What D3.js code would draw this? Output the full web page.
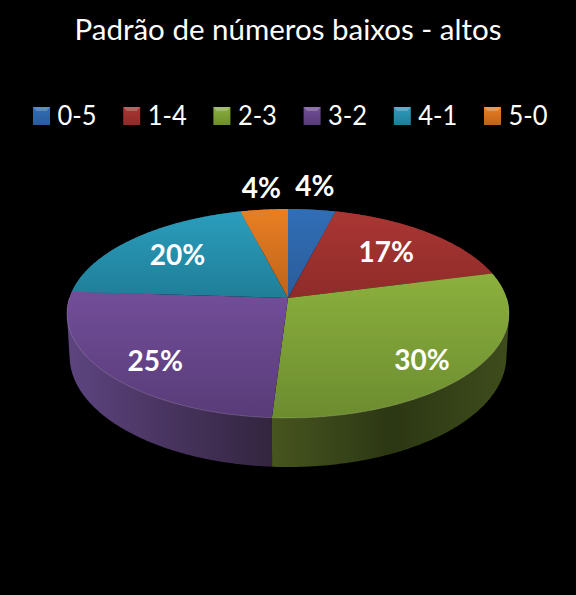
<!DOCTYPE html>
<html>
<head>
<meta charset="utf-8">
<script src="https://cdn.jsdelivr.net/npm/d3@7"></script>
<style>
html, body { margin: 0; padding: 0; background: #000; }
text { font-family: Lato, "Open Sans", sans-serif; fill: #fff; }
</style>
</head>
<body>
<svg id="chart" width="576" height="595"></svg>
<script>
const title = "Padrão de números baixos - altos";
const categories = ["0-5", "1-4", "2-3", "3-2", "4-1", "5-0"];
const values = [4, 17, 30, 25, 20, 4];
const topLight = ["#306eb6", "#aa3633", "#8cb03e", "#724e99", "#2b9dbd", "#e97f23"];
const topDark = ["#2a5c9a", "#8e2b29", "#6c8c2f", "#583b78", "#1f7e98", "#bd631a"];
const sideLeft = ["#2a5080", "#7a2826", "#47551f", "#5d4480", "#1c6a80", "#9c5216"];
const sideMid = ["#234268", "#5c1f1d", "#2c3713", "#48345f", "#155264", "#7c4212"];
const sideRight = ["#1b3350", "#4a1816", "#3e4c1c", "#33253f", "#10404e", "#5f320e"];
const labelRadius = [1.15, 0.68, 0.74, 0.75, 0.7, 1.13];
const labelShift = [-12, 0, 10, 8, 0, -12];

const svg = d3.select("#chart");
const defs = svg.append("defs");

// the pie is a flat disc seen in perspective: the centre sits above the middle of the ellipse
const cx = 288, cy = 298;
const halfWidth = 218.6, halfDepth = 102.2, persp = 0.148, thickness = 41.8;

function project(angle, r, drop) {
	let u = Math.sin(angle) * r,
		v = -Math.cos(angle) * r,
		w = 1 - persp * v,
		narrow = drop > 0 ? 0.988 : 1;
	return [cx + narrow * halfWidth * u / w, cy + (halfDepth * v + drop) / w];
}

function rim(start, end, drop) {
	let n = Math.max(2, Math.ceil((end - start) / 0.01));
	return d3.range(n + 1).map(i => project(start + (end - start) * i / n, 1, drop));
}

const slices = d3.pie().sort(null).startAngle(0).endAngle(2 * Math.PI)(values);
const line = d3.line();

function addGradient(id, vertical, stops) {
	let g = defs.append("linearGradient").attr("id", id)
		.attr("x1", 0).attr("y1", 0)
		.attr("x2", vertical ? 0 : 1).attr("y2", vertical ? 1 : 0);
	stops.forEach((c, i) => g.append("stop")
		.attr("offset", i / (stops.length - 1)).attr("stop-color", c));
}

slices.forEach((s, i) => {
	addGradient("top" + i, true, [topLight[i], topDark[i]]);
	addGradient("side" + i, false, [sideLeft[i], sideMid[i], sideRight[i]]);
});

// side walls first, the top faces then cover the back part of them
// a hull keeps the outer edge straight where the wall tapers
svg.append("g").selectAll("path").data(slices).enter().append("path")
	.attr("d", s => line(d3.polygonHull(rim(s.startAngle, s.endAngle, 0)
		.concat(rim(s.startAngle, s.endAngle, thickness)))) + "Z")
	.attr("fill", (s, i) => "url(#side" + i + ")");

svg.append("g").selectAll("path").data(slices).enter().append("path")
	.attr("d", s => line([[cx, cy]].concat(rim(s.startAngle, s.endAngle, 0))) + "Z")
	.attr("fill", (s, i) => "url(#top" + i + ")");

// soft highlight along the front edge only
const frontSlices = slices.filter(s => s.endAngle > Math.PI / 2 && s.startAngle < 1.5 * Math.PI);
svg.append("g").selectAll("path").data(frontSlices).enter().append("path")
	.attr("d", s => line(rim(Math.max(s.startAngle, Math.PI / 2), Math.min(s.endAngle, 1.5 * Math.PI), 0)))
	.attr("fill", "none")
	.attr("stroke", "#fff")
	.attr("stroke-opacity", 0.16)
	.attr("stroke-width", 1);

// percent labels
svg.append("g").selectAll("text").data(slices).enter().append("text")
	.attr("x", (s, i) => project((s.startAngle + s.endAngle) / 2, labelRadius[i], 0)[0])
	.attr("y", (s, i) => project((s.startAngle + s.endAngle) / 2, labelRadius[i], 0)[1] + labelShift[i])
	.attr("dy", "0.35em")
	.attr("text-anchor", "middle")
	.attr("font-size", 28)
	.attr("font-weight", 700)
	.text(s => s.value + "%");

svg.append("text")
	.attr("x", 288).attr("y", 40)
	.attr("text-anchor", "middle")
	.attr("font-size", 29.5)
	.text(title);

// legend
const legendX = d3.scalePoint().domain(categories).range([33, 484]);
const legend = svg.append("g").selectAll("g").data(categories).enter().append("g")
	.attr("transform", d => "translate(" + legendX(d) + ",107)");

legend.append("rect")
	.attr("width", 17).attr("height", 18)
	.attr("fill", (d, i) => "url(#top" + i + ")");

legend.append("path")
	.attr("d", "M0,0H17L13.5,4H3.5Z")
	.attr("fill", "#fff").attr("fill-opacity", 0.22);

legend.append("text")
	.attr("x", 24.5).attr("y", 18)
	.attr("font-size", 27)
	.attr("textLength", 39)
	.attr("lengthAdjust", "spacingAndGlyphs")
	.text(d => d);
</script>
</body>
</html>
